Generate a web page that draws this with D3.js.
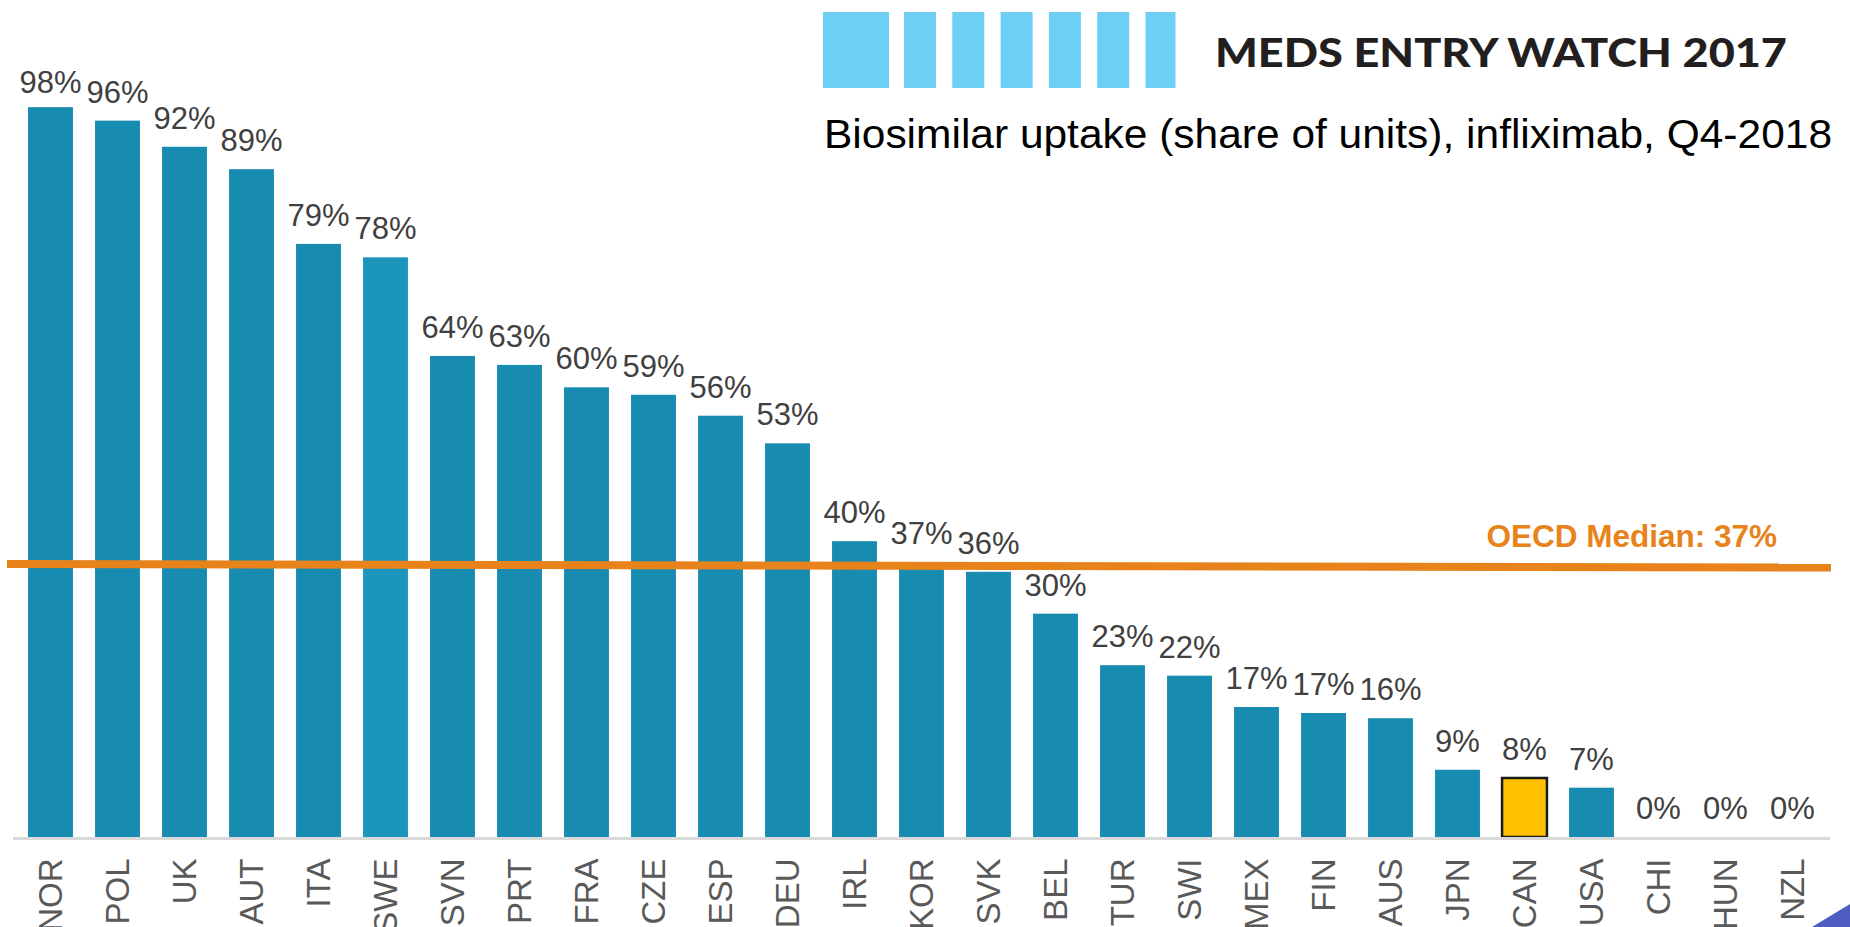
<!DOCTYPE html>
<html>
<head>
<meta charset="utf-8">
<script src="https://cdn.jsdelivr.net/npm/d3@7"></script>
<style>
  body { margin: 0; background: #fff; }
  svg { display: block; }
</style>
</head>
<body>
<svg id="chart"></svg>
<script>
const countries = ["NOR", "POL", "UK", "AUT", "ITA", "SWE", "SVN", "PRT", "FRA", "CZE", "ESP", "DEU", "IRL", "KOR",
  "SVK", "BEL", "TUR", "SWI", "MEX", "FIN", "AUS", "JPN", "CAN", "USA", "CHI", "HUN", "NZL"];
// biosimilar share of units, % (labels show the rounded value)
const uptake = [97.7, 95.9, 92.4, 89.4, 79.4, 77.6, 64.4, 63.2, 60.2, 59.2, 56.4, 52.7, 39.6, 36.8,
  35.5, 29.9, 23.0, 21.6, 17.4, 16.6, 15.9, 9.0, 7.9, 6.6, 0, 0, 0];
const highlight = "CAN";
const lighter = ["SWE"];
const medianValue = 37;
const medianLabel = "OECD Median: 37%";
const brand = "MEDS ENTRY WATCH 2017";
const subtitle = "Biosimilar uptake (share of units), infliximab, Q4-2018";

const W = 1850, H = 927;
const baseY = 837;

const svg = d3.select("#chart").attr("width", W).attr("height", H);

const x = d3.scaleBand()
  .domain(countries)
  .range([17, 1826])
  .paddingInner(0.33)
  .paddingOuter(0.165);

const y = d3.scaleLinear().domain([0, 100]).range([baseY, baseY - 747]);

const data = countries.map((c, i) => ({ country: c, value: uptake[i] }));

// logo blocks + header
const logo = svg.append("g");
const blocks = [{ x: 823, w: 66 }];
for (let i = 0; i < 6; i++) blocks.push({ x: 904 + i * 48.3, w: i === 5 ? 30 : 32 });
logo.selectAll("rect").data(blocks).enter().append("rect")
  .attr("x", d => d.x).attr("y", 12)
  .attr("width", d => d.w).attr("height", 76)
  .attr("fill", "#6dcff6");

svg.append("text")
  .attr("x", 1215).attr("y", 67)
  .attr("textLength", 572).attr("lengthAdjust", "spacingAndGlyphs")
  .style("font-family", "Lato, 'DejaVu Sans', sans-serif")
  .style("font-weight", 900)
  .style("font-size", "40px")
  .attr("fill", "#231f20")
  .text(brand);

svg.append("text")
  .attr("x", 824).attr("y", 148)
  .attr("textLength", 1008).attr("lengthAdjust", "spacingAndGlyphs")
  .style("font-family", "'Liberation Sans', Arial, sans-serif")
  .style("font-size", "41px")
  .attr("fill", "#000")
  .text(subtitle);

// bars
svg.append("g").selectAll("rect")
  .data(data).enter().append("rect")
  .attr("x", d => x(d.country))
  .attr("y", d => y(d.value))
  .attr("width", x.bandwidth())
  .attr("height", d => baseY - y(d.value))
  .attr("fill", d => d.country === highlight ? "#ffc000" : (lighter.includes(d.country) ? "#1b95bb" : "#178bb0"))
  .attr("stroke", d => d.country === highlight ? "#1a1a1a" : "none")
  .attr("stroke-width", 2.5);

// value labels
svg.append("g").selectAll("text")
  .data(data).enter().append("text")
  .attr("x", d => x(d.country) + x.bandwidth() / 2)
  .attr("y", d => Math.max(93, y(d.value) - 18))
  .attr("text-anchor", "middle")
  .style("font-family", "'Liberation Sans', Arial, sans-serif")
  .style("font-size", "31px")
  .attr("fill", "#404040")
  .text(d => Math.round(d.value) + "%");

// x axis
const axis = svg.append("g")
  .attr("transform", `translate(0,${baseY + 1.5})`)
  .call(d3.axisBottom(x).tickSize(0).tickSizeOuter(0));
axis.select(".domain").remove();
axis.append("line")
  .attr("x1", 13).attr("x2", 1830)
  .attr("stroke", "#d9d9d9").attr("stroke-width", 3);
axis.selectAll(".tick text")
  .attr("x", 0).attr("y", 0).attr("dy", "0.36em")
  .attr("text-anchor", "end")
  .attr("transform", "translate(0,20) rotate(-90)")
  .style("font-family", "'Liberation Sans', Arial, sans-serif")
  .style("font-size", "33px")
  .attr("fill", "#595959");

// median line
svg.append("line")
  .attr("x1", 7).attr("x2", 1831)
  .attr("y1", y(medianValue) + 3.5).attr("y2", y(medianValue) + 7)
  .attr("stroke", "#e8821a").attr("stroke-width", 8);

svg.append("text")
  .attr("x", 1777).attr("y", 547)
  .attr("text-anchor", "end")
  .style("font-family", "'Liberation Sans', Arial, sans-serif")
  .style("font-weight", "bold")
  .style("font-size", "31.5px")
  .attr("fill", "#e8821a")
  .text(medianLabel);

// corner decoration
svg.append("path")
  .attr("d", "M1812,927 L1850,904 L1850,927 Z")
  .attr("fill", "#4e5ec0");
</script>
</body>
</html>
